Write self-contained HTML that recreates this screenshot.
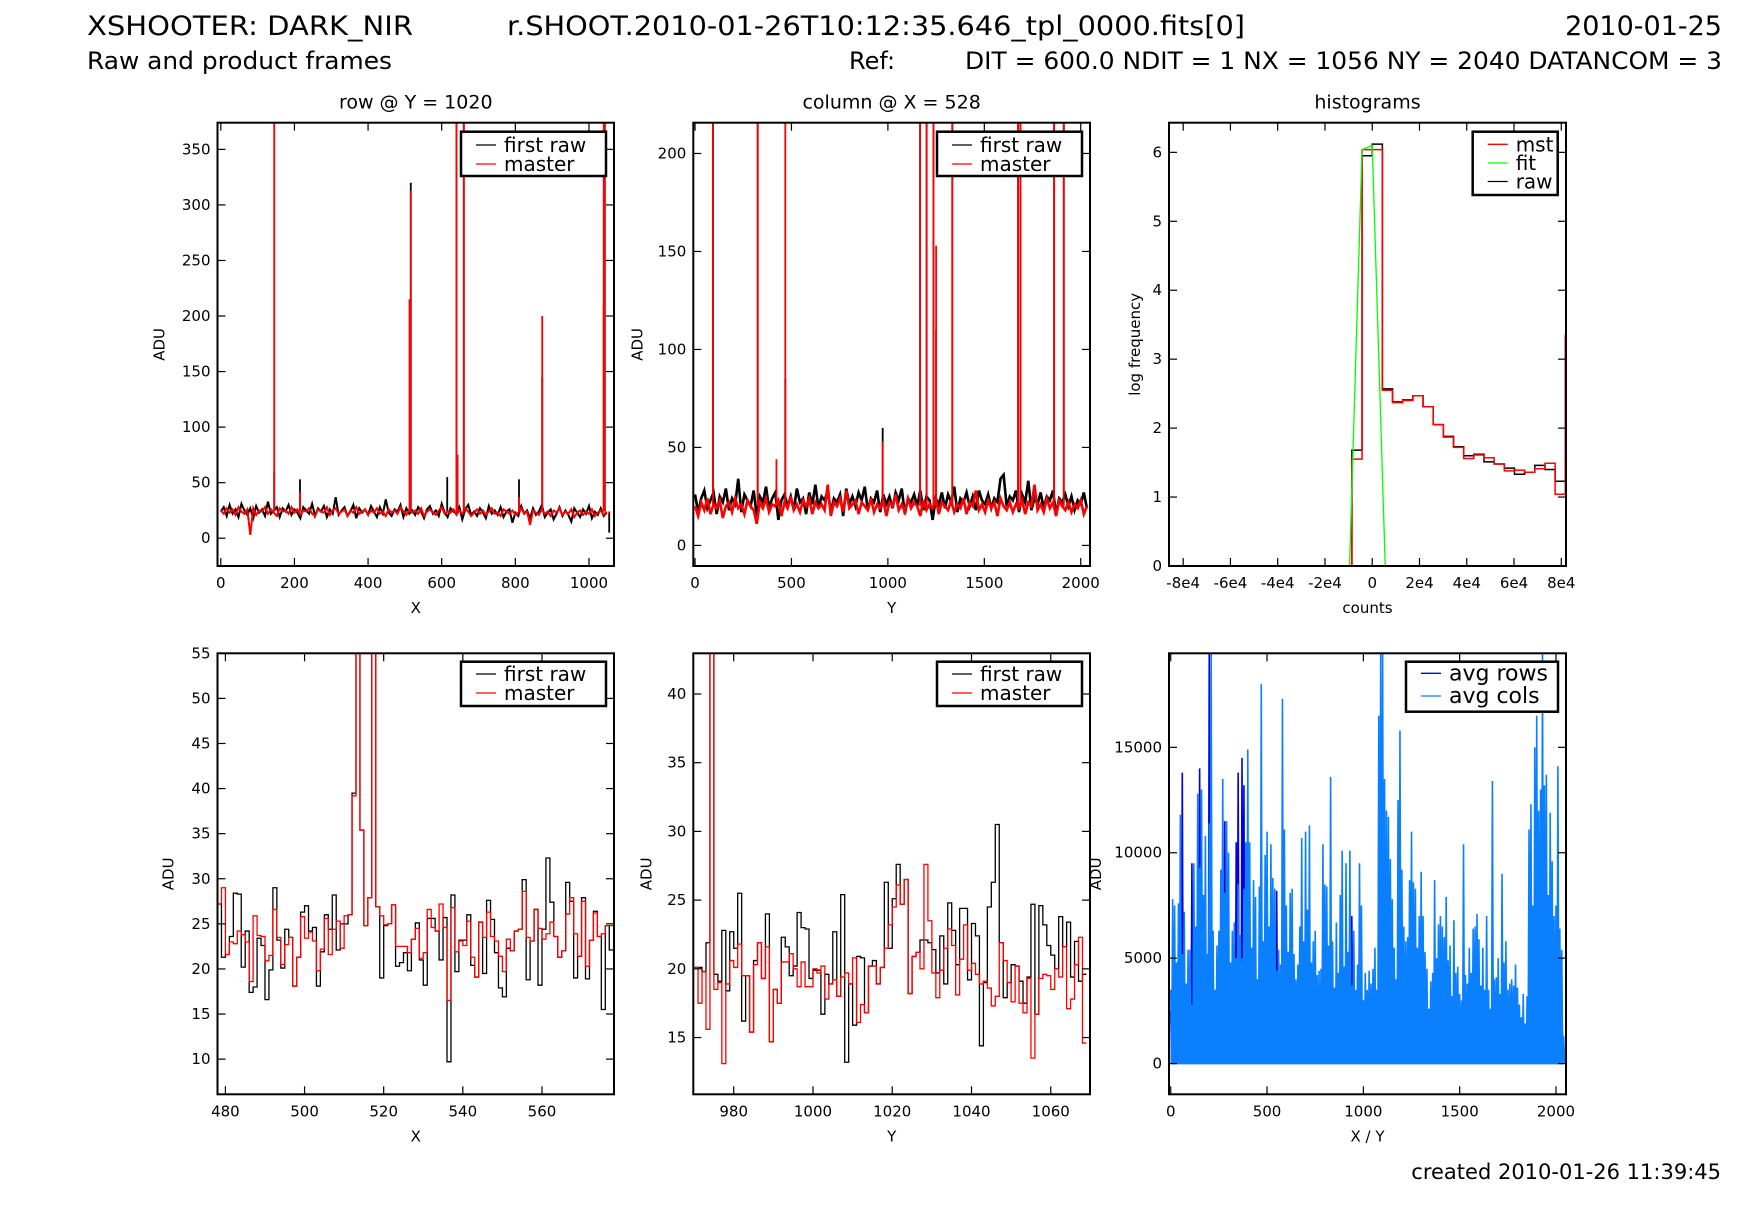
<!DOCTYPE html>
<html><head><meta charset="utf-8"><title>XSHOOTER DARK_NIR</title>
<style>
html,body{margin:0;padding:0;background:#fff;}
svg{display:block;font-family:"DejaVu Sans","Liberation Sans",sans-serif;}
</style></head>
<body>
<svg id="fig" width="1740" height="1230" viewBox="0 0 1740 1230" xmlns="http://www.w3.org/2000/svg">
<rect width="1740" height="1230" fill="#fff"/>
<text x="87" y="35" font-size="27" textLength="326" lengthAdjust="spacingAndGlyphs">XSHOOTER: DARK_NIR</text>
<text x="507" y="35" font-size="27" textLength="738" lengthAdjust="spacingAndGlyphs">r.SHOOT.2010-01-26T10:12:35.646_tpl_0000.fits[0]</text>
<text x="1722" y="35" font-size="27" text-anchor="end">2010-01-25</text>
<text x="87" y="69" font-size="24" textLength="305" lengthAdjust="spacingAndGlyphs">Raw and product frames</text>
<text x="849" y="69" font-size="24">Ref:</text>
<text x="965" y="69" font-size="24" textLength="757" lengthAdjust="spacingAndGlyphs">DIT = 600.0 NDIT = 1 NX = 1056 NY = 2040 DATANCOM = 3</text>
<text x="1721" y="1179" font-size="21" text-anchor="end">created 2010-01-26 11:39:45</text>
</svg>
<script>
// ---------- data ----------
const rowRaw = [24,28,20,30,22,26,19,31,25,21,27,18,29,23,26,20,33,22,25,28,19,27,24,30,21,26,23,18,28,25,22,31,20,27,24,29,19,26,22,37,21,25,28,20,24,30,18,27,23,26,21,29,24,19,28,22,35,23,20,26,24,30,19,27,22,25,21,28,24,18,26,29,22,25,20,31,23,19,27,24,22,28,17,26,30,21,24,20,27,23,18,29,22,25,21,28,19,24,26,14,23,20,29,22,25,18,27,21,24,30,19,23,26,17,22,28,20,25,21,15,27,23,19,26,22,29,18,24,21,27,20,23];
const rowMst = [25,22,27,23,26,21,28,24,22,26,3,27,21,25,24,28,22,26,23,20,27,24,25,22,28,23,26,21,25,24,27,22,20,26,24,23,28,21,25,27,22,24,26,20,25,23,28,22,24,26,21,25,23,27,22,24,20,26,23,25,22,28,24,21,26,23,25,22,27,20,24,26,23,21,25,28,22,24,23,26,21,25,22,27,24,20,23,26,22,25,21,24,27,22,23,20,26,24,22,25,21,23,27,22,24,12,25,23,21,26,22,24,20,25,23,27,21,24,22,26,19,23,25,21,24,22,26,20,23,25,21,24];
const rowStep = 8;
const rowSpikeX = [145,215,513,516,615,640,643,660,810,873,1040,1043,1055];
const rowSpikeRaw = [60,53,215,320,55,400,75,400,53,145,210,400,5];
const rowSpikeMst = [400,42,215,313,25,400,75,400,37,200,400,400,22];

const colRaw = [26,17,24,28,19,23,27,16,25,22,29,18,24,21,34,17,26,23,20,28,15,25,22,30,19,24,27,13,23,26,20,25,18,29,22,24,16,27,21,31,19,25,23,28,17,24,22,26,15,29,21,25,20,27,23,30,18,24,22,28,17,26,21,25,19,27,23,29,16,24,22,26,20,28,18,25,23,13,24,21,27,19,26,22,30,17,24,22,27,20,25,18,28,23,21,26,19,24,22,34,36,20,25,23,28,17,26,22,33,18,24,21,27,19,25,23,28,16,24,22,26,20,25,18,23,21,27,19];
const colMst = [20,15,22,18,24,16,21,19,23,14,20,22,17,24,19,21,16,23,20,18,11,22,19,24,17,21,20,23,15,22,19,25,18,21,17,23,20,24,16,22,19,21,18,31,15,22,20,24,17,28,19,21,23,16,22,20,18,24,17,21,19,23,15,22,20,26,18,21,17,24,19,22,20,15,23,18,21,19,24,16,22,20,18,23,17,21,19,24,16,22,20,28,18,21,17,23,19,22,15,24,20,18,22,17,21,19,23,16,22,20,31,18,21,17,24,19,22,15,23,20,18,22,17,21,19,23,16,20];
const colStep = 16;
const colSpikeX = [93,325,422,468,973,1167,1201,1236,1250,1334,1675,1687,1862,1912];
const colSpikeRaw = [300,300,30,85,60,300,300,300,110,300,300,300,300,300];
const colSpikeMst = [300,300,44,300,53,300,300,300,153,300,300,300,300,300];

const histBinStart = -8600;
const histBinWidth = 4300;
const histRaw = [1.68,5.95,6.12,2.57,2.38,2.41,2.47,2.31,2.05,1.88,1.73,1.60,1.62,1.51,1.48,1.42,1.33,1.36,1.46,1.40,1.23,3.3];
const histMst = [1.55,6.04,6.04,2.55,2.37,2.40,2.47,2.31,2.05,1.87,1.72,1.56,1.61,1.57,1.48,1.38,1.39,1.36,1.41,1.49,1.04,3.35];
const fitX = [-86000,-9600,-4300,0,5500,82000];
const fitY = [0,0,6.04,6.1,0,0];

const zoomRowStart = 478;
const zoomRowRaw = [27.2,21.3,21.6,23.6,28.4,28.3,20.2,24.2,17.4,18,23.4,22.6,16.6,19.9,29.0,23.2,20.1,24.4,23.5,18.1,21.3,26.3,27.0,24.2,24.6,18.1,21.9,26.0,24.4,28.2,22.1,25.0,25.0,26.0,39.5,80,35.4,24.8,27.9,80,26.9,19.0,24.8,25.0,27.1,20.3,20.7,21.8,19.8,23.3,25.1,21.0,18.2,25.6,25.6,24.2,21.0,25.7,9.7,28.2,19.7,23.2,23.2,26.0,20.4,19.1,25.2,19.5,27.6,25.5,21.8,17.9,16.9,22.3,22.0,24.2,24.4,29.9,18.8,23.1,26.6,18.2,24.4,32.3,27.4,23.6,21.3,22.0,29.6,27.5,19.0,21.4,27.9,18.9,23.2,26.4,23.6,15.5,24.8,22.1];
const zoomRowMst = [27.2,29.0,21.6,23.0,22.8,24.2,23.8,23.0,18.6,25.9,23.7,23.6,20.9,21.5,26.6,23.5,20.5,22.7,23.5,18.1,21.3,25.8,23.4,24.1,23.1,19.8,22.2,25.6,21.6,24.4,25.3,22.3,25.9,26.0,39.2,80,35.4,24.8,27.9,80,26.9,25.9,24.9,25.0,27.1,22.5,22.5,22.5,21.8,23.3,24.5,21.2,21.8,26.6,24.6,24.2,27.2,24.6,16.5,26.8,21.9,23.1,22.6,25.3,21.3,19.1,25.2,23.5,26.3,23.6,23.1,21.4,19.7,23.3,22.0,24.2,24.4,28.6,23.5,23.1,26.6,24.5,23.3,23.9,25.2,23.6,21.3,22.0,26.1,27.9,23.9,21.4,27.5,20.3,23.2,26.2,23.6,23.9,24.8,24.8];

const zoomColStart = 970;
const zoomColRaw = [20.1,20.1,19.8,21.9,60,19.6,19.1,22.8,18.4,22.7,21.5,25.5,16.2,19.5,15.4,20.6,21.9,19.3,24.0,14.7,18.5,17.5,22.3,21.6,19.5,20.2,24.1,23.0,22.9,19.3,19.9,19.9,16.7,19.6,18.9,22.7,18.0,25.4,13.2,18.9,15.9,20.9,20.8,16.8,20.2,20.6,18.9,20.1,26.3,21.5,25.1,27.6,24.7,26.5,18.2,20.9,21.2,22.1,22.1,21.9,21.4,19.7,22.4,18.9,24.8,22.8,20.3,24.4,24.4,19.2,23.3,22.4,14.4,19.0,24.5,26.3,30.5,21.9,17.9,19.0,20.3,20.2,19.1,17.5,19.4,24.7,16.7,24.6,23.2,21.7,21.0,20.0,23.8,21.6,23.4,19.4,22.0,19.1,19.6];
const zoomColMst = [20.1,17.5,19.8,15.6,60,18.5,19.0,13.1,18.9,20.6,20.1,21.8,19.5,19.5,15.4,20.3,21.9,19.3,21.6,14.7,18.5,17.5,20.5,20.5,21.1,20.0,18.7,20.5,18.7,18.7,20.0,19.7,20.2,17.8,18.9,19.2,18.0,19.4,19.7,18.9,20.8,16.1,17.4,16.8,20.2,20.2,18.9,20.1,21.5,23.2,24.5,26.1,24.7,26.5,18.2,20.9,21.2,20.0,27.6,23.5,19.7,17.9,19.9,21.5,22.9,21.7,18.1,20.7,23.2,19.9,20.4,19.6,18.9,19.1,18.6,17.3,18.0,21.9,20.6,19.0,17.6,20.2,17.5,16.8,19.3,13.5,16.7,19.3,19.6,19.5,18.5,20.0,19.4,21.6,17.1,17.8,20.3,22.3,14.6];

const avgStep = 10;
const avgRows = [2500,2000,3000,2500,2200,3000,13800,2500,2800,3000,2500,9500,2600,3000,9300,14000,3500,3000,2500,3000,19500,2800,3500,3000,2500,3000,2800,3000,11500,3000,2500,3000,2800,2600,10500,13800,3000,14500,13200,3500,3000,2500,3000,2800,2600,3000,2500,3000,2800,3000,2500,3000,2700,3000,2500,8200,3000,2800,3000,2500,3000,2800,2600,3000,2500,3000,2800,3000,2500,3000,2700,3000,2500,3000,2800,3000,2500,3000,2800,3000,2500,3000,2800,3000,2500,3000,2800,3000,2500,3000,2800,3000,2500,3000,7000,5700,3000,2500,3000,2800,3000,2500,3000,2800,3000,2500];
const avgCols = [3500,7800,7500,4800,7600,11800,5200,7200,3800,5400,5400,2800,9500,6500,12800,9300,13000,8000,10800,5200,11400,19500,6300,3500,5600,6300,9200,13500,8100,11500,10000,4800,6300,6700,5000,8500,6100,5000,8300,10500,14900,10500,5500,8700,7900,4000,8400,18000,5800,9900,11000,6500,10400,8800,8300,4400,5400,4700,17300,11100,7500,5300,8100,8300,5200,4000,4700,6500,10700,5800,11000,7300,11300,4800,5800,6300,4200,4400,4500,10400,8500,8400,5600,13600,5800,3600,6700,4300,8000,10100,4600,9500,5300,10100,3700,6300,3500,4700,9500,7500,3000,4300,3500,4400,3800,4500,5500,3500,16500,19500,19500,13500,12000,11700,9700,7800,5500,4000,12500,15800,9200,6500,5800,6000,8700,11000,8600,8300,5500,7000,9100,7000,5300,4500,2600,3900,4300,8700,5000,6600,7000,6500,6000,7900,4900,5600,3200,6800,4300,4600,3300,3000,10400,4200,3800,5500,4300,6400,6500,7100,5900,3700,5500,3500,7000,3500,2600,13400,4000,4100,5000,3300,9000,4800,5800,3500,3800,4000,3700,4700,3600,2800,2200,3300,1900,3200,11100,12300,7500,15000,16500,12000,13000,19500,13200,13700,8000,11900,9600,7000,7500,14100,6400,5400,1300];

// ---------- helpers ----------
const NS = 'http://www.w3.org/2000/svg';
const svg = document.getElementById('fig');
function el(tag, attrs, parent){
  const e = document.createElementNS(NS, tag);
  for (const k in attrs) e.setAttribute(k, attrs[k]);
  (parent || svg).appendChild(e);
  return e;
}
let clipId = 0;
function makePanel(p){
  const sx = v => p.x0 + (v - p.xmin) / (p.xmax - p.xmin) * (p.x1 - p.x0);
  const sy = v => p.y1 - (v - p.ymin) / (p.ymax - p.ymin) * (p.y1 - p.y0);
  const g = el('g', {});
  
  
  const cid = 'clip' + (clipId++);
  const cp = el('clipPath', {id: cid}, g);
  el('rect', {x: p.x0, y: p.y0, width: p.x1 - p.x0, height: p.y1 - p.y0}, cp);
  const plot = el('g', {'clip-path': 'url(#' + cid + ')'}, g);
  
  
  const axes = el('g', {}, g);
  p.xticks.forEach((t, i) => {
    const x = sx(t);
    el('line', {x1: x, x2: x, y1: p.y1, y2: p.y1 - 8, stroke: '#000', 'stroke-width': 1.2}, axes);
    el('line', {x1: x, x2: x, y1: p.y0, y2: p.y0 + 8, stroke: '#000', 'stroke-width': 1.2}, axes);
    const tl = el('text', {x: x, y: p.y1 + 22, 'font-size': 15, 'text-anchor': 'middle'}, axes);
    
    
    tl.textContent = p.xlabels ? p.xlabels[i] : String(t);
  });
  p.yticks.forEach(t => {
    const y = sy(t);
    el('line', {x1: p.x0, x2: p.x0 + 8, y1: y, y2: y, stroke: '#000', 'stroke-width': 1.2}, axes);
    el('line', {x1: p.x1, x2: p.x1 - 8, y1: y, y2: y, stroke: '#000', 'stroke-width': 1.2}, axes);
    const tl = el('text', {x: p.x0 - 7, y: y + 5, 'font-size': 15, 'text-anchor': 'end'}, axes);
    
    
    tl.textContent = String(t);
  });
  el('rect', {x: p.x0, y: p.y0, width: p.x1 - p.x0, height: p.y1 - p.y0, fill: 'none', stroke: '#000', 'stroke-width': 2}, axes);
  const xl = el('text', {x: (p.x0 + p.x1) / 2, y: p.y1 + 47, 'font-size': 15, 'text-anchor': 'middle'}, axes);
  
  
  xl.textContent = p.xtitle;
  const cy = (p.y0 + p.y1) / 2, lx = p.x0 + p.ylabOff;
  const yl = el('text', {x: lx, y: cy, 'font-size': 15, 'text-anchor': 'middle', transform: 'rotate(-90 ' + lx + ' ' + cy + ')'}, axes);
  
  
  yl.textContent = p.ytitle;
  if (p.title) {
    const tt = el('text', {x: (p.x0 + p.x1) / 2, y: p.y0 - 14, 'font-size': 19, 'text-anchor': 'middle'}, axes);
    
    
    tt.textContent = p.title;
  }
  return {sx, sy, plot, axes, p};
}
function legend(P, box, entries, rowY, fs){
  const g = el('g', {}, P.axes);
  
  
  el('rect', {x: box[0], y: box[1], width: box[2], height: box[3], fill: '#fff', stroke: '#000', 'stroke-width': 2.5}, g);
  entries.forEach((en, i) => {
    const y = rowY[i];
    const lg = el('g', {}, g);
    
    
    el('line', {x1: box[0] + 15, x2: box[0] + 35, y1: y, y2: y, stroke: en[1], 'stroke-width': 1.3}, lg);
    const t = el('text', {x: box[0] + 43, y: y + 7, 'font-size': fs}, lg);
    t.textContent = en[0];
  });
}
function noiseLine(P, arr, step, color, name, w){
  const pts = arr.map((v, i) => P.sx(i * step).toFixed(2) + ',' + P.sy(v).toFixed(2)).join(' ');
  const pl = el('polyline', {points: pts, fill: 'none', stroke: color, 'stroke-width': w || 1.8}, P.plot);
  
  
}
function spikes(P, xs, vals, base, color, name){
  xs.forEach((x, i) => {
    const l = el('line', {x1: P.sx(x), x2: P.sx(x), y1: P.sy(base), y2: P.sy(vals[i]), stroke: color, 'stroke-width': 1.8}, P.plot);
    
    
  });
}
function stepLine(P, start, vals, color, name, w){
  let d = '';
  vals.forEach((v, i) => {
    const xa = P.sx(start + i), xb = P.sx(start + i + 1), y = P.sy(v);
    d += (i === 0 ? 'M' : 'L') + xa.toFixed(2) + ',' + y.toFixed(2) + 'L' + xb.toFixed(2) + ',' + y.toFixed(2);
  });
  const pa = el('path', {d: d, fill: 'none', stroke: color, 'stroke-width': w || 1.3}, P.plot);
  
  
}

// ---------- panel 1: row ----------
const P1 = makePanel({name: 'row-panel', x0: 217.5, x1: 614, y0: 122.7, y1: 566, xmin: -9, xmax: 1068, ymin: -25, ymax: 374,
  xticks: [0,200,400,600,800,1000], yticks: [0,50,100,150,200,250,300,350], xtitle: 'X', ytitle: 'ADU', ylabOff: -53, title: 'row @ Y = 1020'});
noiseLine(P1, rowRaw, rowStep, '#000', 'first-raw-line', 2);
spikes(P1, rowSpikeX, rowSpikeRaw, 24, '#000', 'first-raw-spike');
noiseLine(P1, rowMst, rowStep, '#f00', 'master-line', 2);
spikes(P1, rowSpikeX, rowSpikeMst, 24, '#f00', 'master-spike');
legend(P1, [461, 131.7, 145, 44.3], [['first raw', '#000'], ['master', '#f00']], [145, 164], 20);

// ---------- panel 2: column ----------
const P2 = makePanel({name: 'column-panel', x0: 693.3, x1: 1090, y0: 122.7, y1: 566, xmin: -9, xmax: 2048, ymin: -10.5, ymax: 215.7,
  xticks: [0,500,1000,1500,2000], yticks: [0,50,100,150,200], xtitle: 'Y', ytitle: 'ADU', ylabOff: -51, title: 'column @ X = 528'});
noiseLine(P2, colRaw, colStep, '#000', 'first-raw-line', 2.6);
spikes(P2, colSpikeX, colSpikeRaw, 22, '#000', 'first-raw-spike');
noiseLine(P2, colMst, colStep, '#f00', 'master-line', 2.6);
spikes(P2, colSpikeX, colSpikeMst, 20, '#f00', 'master-spike');
legend(P2, [937, 131.7, 145, 44.3], [['first raw', '#000'], ['master', '#f00']], [145, 164], 20);

// ---------- panel 3: histograms ----------
const P3 = makePanel({name: 'histogram-panel', x0: 1169, x1: 1566, y0: 122.7, y1: 566, xmin: -86000, xmax: 82000, ymin: 0, ymax: 6.43,
  xticks: [-80000,-60000,-40000,-20000,0,20000,40000,60000,80000], xlabels: ['-8e4','-6e4','-4e4','-2e4','0','2e4','4e4','6e4','8e4'],
  yticks: [0,1,2,3,4,5,6], xtitle: 'counts', ytitle: 'log frequency', ylabOff: -29, title: 'histograms'});
function histPath(vals, color, name){
  let d = 'M' + P3.sx(-86000) + ',' + P3.sy(0) + 'L' + P3.sx(histBinStart).toFixed(2) + ',' + P3.sy(0);
  vals.forEach((v, i) => {
    const xa = P3.sx(histBinStart + i * histBinWidth), xb = P3.sx(histBinStart + (i + 1) * histBinWidth);
    d += 'L' + xa.toFixed(2) + ',' + P3.sy(v).toFixed(2) + 'L' + xb.toFixed(2) + ',' + P3.sy(v).toFixed(2);
  });
  const pa = el('path', {d: d, fill: 'none', stroke: color, 'stroke-width': 1.5}, P3.plot);
  
  
}
histPath(histRaw, '#000', 'raw-histogram');
histPath(histMst, '#f00', 'mst-histogram');
{
  const pts = fitX.map((x, i) => P3.sx(x).toFixed(2) + ',' + P3.sy(fitY[i]).toFixed(2)).join(' ');
  const pl = el('polyline', {points: pts, fill: 'none', stroke: '#0f0', 'stroke-width': 1.3}, P3.plot);
  
  
}
legend(P3, [1472.7, 131.7, 85, 63.3], [['mst', '#f00'], ['fit', '#0f0'], ['raw', '#000']], [144.3, 163, 181.5], 20);

// ---------- panel 4: row zoom ----------
const P4 = makePanel({name: 'row-zoom-panel', x0: 217.5, x1: 614, y0: 653.3, y1: 1094.3, xmin: 478, xmax: 578.2, ymin: 6.1, ymax: 55,
  xticks: [480,500,520,540,560], yticks: [10,15,20,25,30,35,40,45,50,55], xtitle: 'X', ytitle: 'ADU', ylabOff: -44});
stepLine(P4, zoomRowStart, zoomRowRaw, '#000', 'first-raw-step');
stepLine(P4, zoomRowStart, zoomRowMst, '#f00', 'master-step');
legend(P4, [461, 661.7, 145, 44.3], [['first raw', '#000'], ['master', '#f00']], [674, 693], 20);

// ---------- panel 5: column zoom ----------
const P5 = makePanel({name: 'column-zoom-panel', x0: 693.3, x1: 1090, y0: 653.3, y1: 1094.3, xmin: 969.8, xmax: 1069.9, ymin: 10.87, ymax: 42.96,
  xticks: [980,1000,1020,1040,1060], yticks: [15,20,25,30,35,40], xtitle: 'Y', ytitle: 'ADU', ylabOff: -42});
stepLine(P5, zoomColStart, zoomColRaw, '#000', 'first-raw-step');
stepLine(P5, zoomColStart, zoomColMst, '#f00', 'master-step');
legend(P5, [937, 661.7, 145, 44.3], [['first raw', '#000'], ['master', '#f00']], [674, 693], 20);

// ---------- panel 6: averages ----------
const P6 = makePanel({name: 'average-panel', x0: 1169, x1: 1566, y0: 653.3, y1: 1094.3, xmin: -9, xmax: 2052, ymin: -1457, ymax: 19460,
  xticks: [0,500,1000,1500,2000], yticks: [0,5000,10000,15000], xtitle: 'X / Y', ytitle: 'ADU', ylabOff: -68});
function avgLine(arr, color, name){
  const pts = [];
  arr.forEach((v, i) => {
    pts.push(P6.sx(i * avgStep).toFixed(2) + ',' + P6.sy(v).toFixed(2));
    pts.push(P6.sx(i * avgStep + avgStep / 2).toFixed(2) + ',' + P6.sy(0).toFixed(2));
  });
  const pl = el('polyline', {points: pts.join(' '), fill: 'none', stroke: color, 'stroke-width': 1.6, 'stroke-linejoin': 'miter'}, P6.plot);
  
  
  let d = 'M' + P6.sx(0).toFixed(2) + ',' + P6.sy(0).toFixed(2);
  arr.forEach((v, i) => {
    d += 'L' + P6.sx(i * avgStep + avgStep / 4).toFixed(2) + ',' + P6.sy(v * 0.45).toFixed(2);
  });
  d += 'L' + P6.sx((arr.length - 1) * avgStep).toFixed(2) + ',' + P6.sy(0).toFixed(2) + 'Z';
  const pa = el('path', {d: d, fill: color, stroke: 'none'}, P6.plot);
  
  
}
avgLine(avgRows, '#0000e0', 'avg-rows-line');
avgLine(avgCols, '#0a80ff', 'avg-cols-line');
{
  const zl = el('line', {x1: P6.sx(0), x2: P6.sx(2040), y1: P6.sy(0), y2: P6.sy(0), stroke: '#0a80ff', 'stroke-width': 1.5}, P6.plot);
  
  
}
legend(P6, [1406, 661.7, 152, 50], [['avg rows', '#0000e0'], ['avg cols', '#0a80ff']], [673.3, 696], 22);
</script>
</body></html>
